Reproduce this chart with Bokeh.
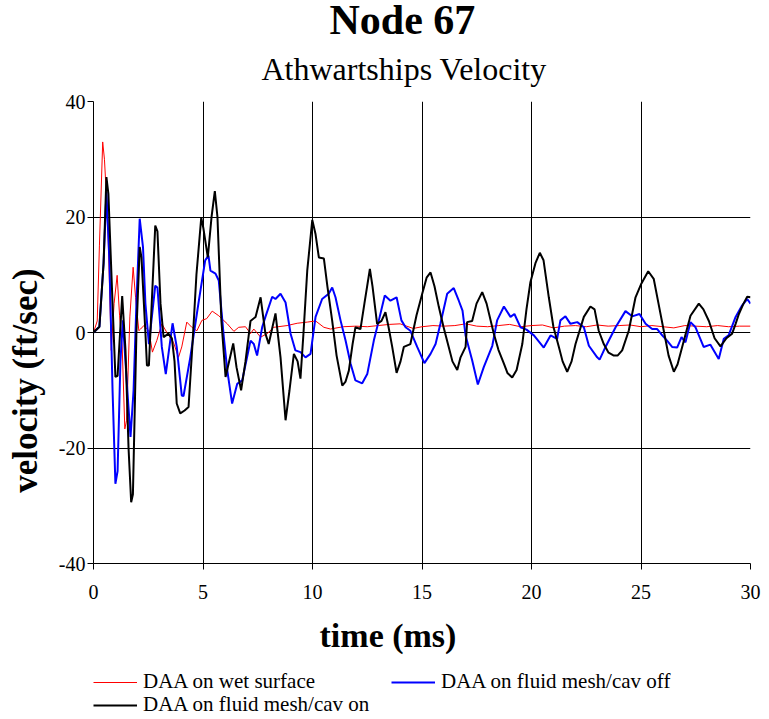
from bokeh.plotting import figure
from bokeh.layouts import column
from bokeh.models import Range1d, FixedTicker, Legend, LegendItem, Title, CustomJSTickFormatter
from bokeh.embed import file_html
from bokeh.resources import INLINE

# ---------------- data ----------------
t_wet = [0, 0.17, 0.27, 0.42, 0.5, 0.65, 0.81, 0.94, 1.08, 1.19, 1.31, 1.43, 1.51, 1.66, 1.81,
         1.92, 2.07, 2.15, 2.30, 2.53, 2.69, 2.89, 3.12, 3.35, 3.65, 3.88, 4.03, 4.26, 4.49,
         4.72, 4.95, 5.17, 5.42, 5.72, 6.11, 6.41, 6.63, 6.94, 7.17, 7.32, 7.63, 7.93, 8.23,
         8.84, 9.30, 9.76, 10.14, 10.52, 10.82, 11.4, 12.0, 12.5, 13.0, 13.5, 14.0, 14.6, 15.0,
         15.5, 16.0, 16.5, 17.0, 17.5, 18.0, 18.5, 19.0, 19.5, 20.0, 20.5, 21.0, 21.5, 22.0,
         22.5, 23.0, 23.5, 24.0, 24.5, 25.0, 25.5, 26.0, 26.5, 27.0, 27.5, 28.0, 28.5, 29.0,
         29.5, 30.0]
v_wet = [0, 2, 15, 33, 30, 19.4, -3.1, 5, 9.9, 3, -2.5, -16.7, -15.2, 2.7, 11.3,
         6.1, 0.3, 0.6, 1.2, 0.3, -3.4, -1.4, 1.5, 0, -1.7, -4.3, -2.5, 1.8, 0.9,
         0.3, 2.1, 2.4, 3.7, 2.9, 1.5, 0.2, 0.9, 1.0, -0.2, 0.6, -0.8, -0.2, 0.9,
         1.2, 1.6, 1.8, 2.0, 0.9, 0.6, 1.0, 1.1, 1.0, 1.2, 1.4, 1.5, 0.7, 1.0,
         1.2, 1.1, 1.2, 1.5, 1.1, 1.0, 1.2, 1.4, 1.0, 1.2, 1.3, 0.8, 1.1, 1.2,
         1.0, 1.3, 1.1, 1.2, 1.3, 1.0, 1.2, 1.0, 0.8, 1.2, 1.1, 1.0, 1.2, 1.0,
         1.1, 1.1]

t_off = [0, 0.27, 0.46, 0.59, 0.73, 0.87, 1.0, 1.10, 1.23, 1.34, 1.51, 1.69, 1.83, 1.96, 2.11,
         2.26, 2.37, 2.53, 2.82, 2.92, 3.12, 3.30, 3.61, 3.80, 4.03, 4.11, 4.42, 4.79, 5.10,
         5.25, 5.34, 5.57, 5.72, 5.95, 6.11, 6.33, 6.56, 6.79, 7.17, 7.32, 7.47, 7.70, 7.85,
         8.16, 8.31, 8.54, 8.77, 9.0, 9.22, 9.45, 9.68, 9.91, 10.14, 10.44, 10.74, 10.90, 11.05,
         11.28, 11.51, 11.74, 11.96, 12.27, 12.50, 12.80, 13.03, 13.30, 13.56, 13.84, 14.06,
         14.25, 14.47, 14.78, 15.11, 15.39, 15.62, 15.84, 16.15, 16.45, 16.68, 16.85, 16.99,
         17.29, 17.55, 17.82, 18.21, 18.43, 18.74, 19.04, 19.22, 19.50, 19.77, 20.11, 20.56,
         20.87, 21.17, 21.32, 21.55, 21.78, 22.09, 22.39, 22.62, 23.0, 23.11, 23.38, 23.84,
         24.29, 24.60, 24.93, 25.21, 25.51, 25.74, 25.97, 26.19, 26.42, 26.65, 26.85, 27.03,
         27.26, 27.49, 27.86, 28.17, 28.55, 28.78, 29.0, 29.32, 29.62, 29.85, 30.0]
v_off = [0, 1, 12, 24.3, 12, -10, -26.2, -24, -5, 2.1, -8, -18.1, -10, 5, 19.7,
         14.8, 5, -2, 8.1, 7.8, -2.5, -7.2, 1.6, -2.5, -10.9, -11, -4.3, 5, 12.5,
         13.3, 10.7, 10.2, 9, -0.8, -6.6, -12.3, -8.9, -8.3, -1.4, -2, -4, 0.9, 2.7,
         6.2, 5.8, 6.7, 5.2, -0.2, -3.1, -3.4, -4.3, -3.7, 2.7, 5.8, 6.7, 7.8, 6.1,
         2.1, -1.4, -5.4, -8.3, -8.8, -7.2, -1.4, 2.1, 6.4, 5.5, 6.1, 2.1,
         0.9, 0.3, -2.5, -5.3, -3.7, -2, 1.5, 6.7, 7.7, 5.5, 3.8, -0.5,
         -4.8, -9, -6, -2.3, 2.1, 4.5, 2.7, 3.2, 0.9, 0.5, -0.5, -2.6,
         -0.5, -1.1, 2.1, 2.8, 1.5, 1.8, 0.9, -2.3, -4.3, -4.7, -2.5, 0.9,
         3.7, 2.8, 3.2, 1.5, 0.6, 0.6, -0.5, -1.4, -2.5, -2.6, -0.8, -1.7,
         1.8, 0.9, -2.5, -2.1, -4.6, -1.1, -0.5, 2.7, 4.7, 5.8, 5.0]

t_on = [0, 0.27, 0.46, 0.59, 0.68, 0.87, 1.0, 1.10, 1.31, 1.46, 1.6, 1.72, 1.80, 1.96, 2.11,
        2.19, 2.37, 2.44, 2.53, 2.82, 2.92, 3.06, 3.2, 3.42, 3.58, 3.7, 3.80, 3.96, 4.16,
        4.34, 4.52, 4.7, 4.92, 5.02, 5.22, 5.39, 5.54, 5.66, 5.84, 6.03, 6.38, 6.53, 6.74,
        6.94, 7.17, 7.40, 7.63, 7.85, 8.0, 8.31, 8.54, 8.77, 8.95, 9.15, 9.32, 9.45, 9.59,
        9.76, 9.99, 10.14, 10.29, 10.52, 10.68, 10.90, 11.10, 11.36, 11.51, 11.66, 11.83,
        11.96, 12.19, 12.37, 12.62, 12.74, 12.95, 13.15, 13.33, 13.47, 13.64, 13.84, 14.02,
        14.17, 14.47, 14.75, 15.01, 15.21, 15.39, 15.57, 15.77, 15.98, 16.22, 16.39, 16.61,
        16.76, 16.99, 17.06, 17.29, 17.49, 17.75, 17.95, 18.28, 18.49, 18.74, 18.90, 19.12,
        19.32, 19.58, 19.77, 19.95, 20.18, 20.38, 20.55, 20.79, 21.0, 21.25, 21.42, 21.63,
        21.83, 22.01, 22.39, 22.69, 22.88, 23.07, 23.30, 23.52, 23.76, 23.93, 24.14, 24.44,
        24.75, 25.02, 25.33, 25.58, 25.80, 26.04, 26.26, 26.50, 26.67, 26.88, 27.26, 27.64,
        27.85, 28.10, 28.36, 28.63, 28.90, 29.16, 29.32, 29.47, 29.68, 29.85, 30.0]
v_on = [0, 1, 12, 26.9, 24, 5, -7.7, -7.5, 6.3, -3, -20, -29.4, -28, 0, 14.8,
        13, 0, -5.7, -5.7, 18.5, 17.5, 5, -0.8, -0.2, -1, -5, -12.3, -14, -13.5,
        -12.9, -2, 10, 19.9, 18, 13, 20, 24.5, 20, 2, -7.7, -1.9, -6, -10,
        -5, 2, 2.7, 6.1, -0.2, -2, 3.3, -4.3, -15.2, -10, -3.7, -5, -8, 0,
        10.7, 19.5, 17, 13, 12.8, 8, 2, -4, -9.2, -8.5, -6.6, -2,
        0.9, 0.6, 5, 11, 8, 1.5, 2, 3.5, 1, -2.5, -7, -5,
        -2.5, -2, 3, 6.7, 9.5, 10.4, 8, 4.4, 1, -2.5, -5, -6.5,
        -4.3, -2.5, 1.8, 2, 5, 7, 5, -0.2, -3, -5.4, -7, -7.8,
        -6.5, -2, 4, 8.7, 12, 13.8, 12.5, 6.1, 1, -2.5, -5, -6.8,
        -5, -2, 2.7, 4.5, 4, 0.3, -2, -3.5, -4, -4, -3.1, 0.3,
        6.1, 8.5, 10.6, 9.3, 5, 0.3, -4, -6.8, -5.5, -2.5, 2.9, 5,
        4, 2, -1, -2.4, -1, -0.2, 1.5, 3.2, 5, 6.2, 6.1]

x_ticks = [0, 5, 10, 15, 20, 25, 30]
y_ticks = [-40, -20, 0, 20, 40]
series_names = ["DAA on wet surface", "DAA on fluid mesh/cav off", "DAA on fluid mesh/cav on"]
series_colors = ["#ff0000", "#0000ff", "#000000"]
series_widths = [1, 2, 2]

FONT = "Liberation Serif"
NBSP = "\u00a0"

# ---------------- main chart ----------------
p = figure(frame_width=657, frame_height=462, output_backend="svg", toolbar_location=None,
           x_range=Range1d(0, 30), y_range=Range1d(-40, 40),
           min_border_left=93, min_border_right=19, min_border_top=101, min_border_bottom=100)
p.outline_line_color = None
p.background_fill_color = "white"
p.border_fill_color = "white"

p.title.text = "Node 67"
p.title.text_font = FONT
p.title.text_font_size = "42px"
p.title.text_font_style = "bold"
p.title.text_color = "black"
p.title.align = "left"
p.title.offset = 236
p.title.standoff = -16
p.add_layout(Title(text="Athwartships Velocity", text_font=FONT, text_font_size="32px",
                   text_font_style="normal", text_color="black", align="left",
                   offset=168, standoff=29), "above")

for ax in (p.xaxis[0], p.yaxis[0]):
    ax.axis_line_color = "black"
    ax.axis_line_width = 1
    ax.major_tick_line_color = "black"
    ax.major_tick_out = 6
    ax.major_tick_in = 0
    ax.minor_tick_line_color = None
    ax.major_label_text_font = FONT
    ax.major_label_text_font_size = "20px"
    ax.major_label_text_color = "black"
    ax.axis_label_text_font = FONT
    ax.axis_label_text_font_style = "bold"
    ax.axis_label_text_color = "black"
    ax.formatter = CustomJSTickFormatter(code="return tick.toFixed(0);")
p.xaxis[0].ticker = FixedTicker(ticks=x_ticks)
p.yaxis[0].ticker = FixedTicker(ticks=y_ticks)
p.xaxis[0].major_label_standoff = 15
p.yaxis[0].major_label_standoff = 2
# trailing no-break spaces shift the centred labels to where the reference has them
p.xaxis[0].axis_label = "time (ms)" + NBSP * 8
p.xaxis[0].axis_label_text_font_size = "34px"
p.xaxis[0].axis_label_standoff = 15
p.yaxis[0].axis_label = "velocity (ft/sec)" + NBSP * 11
p.yaxis[0].axis_label_text_font_size = "35px"
p.yaxis[0].axis_label_standoff = 11

p.xgrid[0].ticker = FixedTicker(ticks=x_ticks[1:])
p.ygrid[0].ticker = FixedTicker(ticks=[-20, 0, 20])
for g in (p.xgrid[0], p.ygrid[0]):
    g.grid_line_color = "black"
    g.grid_line_width = 1
    g.grid_line_alpha = 1

series = [(t_wet, v_wet), (t_off, v_off), (t_on, v_on)]
for (tt, vv), c, w in zip(series, series_colors, series_widths):
    p.line(tt, vv, line_color=c, line_width=w)

# ---------------- legend strip under the chart ----------------
# the same series are drawn here in a range that is out of view, only so that the legend has
# renderers of its own; the legend sits inside this strip's frame
lp = figure(width=769, height=56, output_backend="svg", toolbar_location=None,
            x_axis_type=None, y_axis_type=None, x_range=Range1d(0, 30),
            y_range=Range1d(1000, 1001), min_border=0)
lp.title.visible = False
lp.outline_line_color = None
lp.background_fill_color = "white"
lp.border_fill_color = "white"
legend_renderers = [lp.line(tt, vv, line_color=c, line_width=w)
                    for (tt, vv), c, w in zip(series, series_colors, series_widths)]

def mk_legend(items, loc, spacing):
    return Legend(items=items, location=loc, orientation="horizontal",
                  glyph_width=44, glyph_height=20, label_height=20, label_standoff=6,
                  spacing=spacing, padding=0, margin=0,
                  label_text_font=FONT, label_text_font_size="21px", label_text_color="black",
                  border_line_alpha=0, background_fill_alpha=0)

lp.add_layout(mk_legend([LegendItem(label=series_names[0], renderers=[legend_renderers[0]]),
                         LegendItem(label=series_names[1], renderers=[legend_renderers[1]])],
                        (0, 25), 76))
lp.add_layout(mk_legend([LegendItem(label=series_names[2], renderers=[legend_renderers[2]])],
                        (0, 2), 10))

layout = column(p, lp, spacing=0)
open("out.html", "w").write(file_html(layout, INLINE))
